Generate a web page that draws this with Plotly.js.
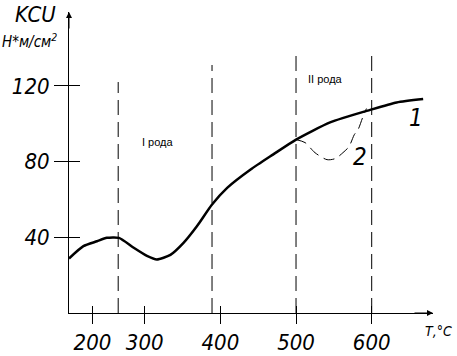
<!DOCTYPE html>
<html>
<head>
<meta charset="utf-8">
<script src="https://cdn.plot.ly/plotly-3.0.1.min.js"></script>
<style>html,body{margin:0;padding:0;background:#fff;}#chart{width:457px;height:356px;}</style>
</head>
<body>
<div id="chart"></div>
<script>
// Curve 1 (KCU vs T)
var T1 = [200, 219, 237, 250, 266, 285, 303, 316, 334, 351, 369, 389, 409, 440, 470, 500, 545, 598, 633, 668];
var V1 = [28.8, 35.3, 37.9, 39.7, 39.7, 34.6, 30.2, 28.3, 30.7, 36.9, 45.8, 57.3, 66.1, 75.8, 83.8, 91.6, 100.7, 107.3, 111.2, 113.0];
// Curve 2 (dashed branch)
var T2 = [500, 512, 525, 541, 552, 562, 570, 577, 582, 588, 593];
var V2 = [91.6, 90.0, 84.7, 81.0, 81.6, 84.7, 87.9, 94.2, 96.9, 103.2, 108];
// Vertical dashed boundaries
var vLineT = [265, 389, 500, 600];
var vLineTop = [122, 131, 137, 137];
// Ticks
var xTickVals = [231, 300, 400, 500, 600];
var xTickText = ['200', '300', '400', '500', '600'];
var yTickVals = [40, 80, 120];
var yTickText = ['40', '80', '120'];
// Region labels
var regionText = ['I рода', 'II рода'];
var regionT = [318, 539];
var regionV = [90.5, 123.8];
// Curve labels
var curveLabels = ['1', '2'];
var curveLabelT = [659, 585];
var curveLabelV = [103.2, 82.6];

var xRange = [200, 681];
var yRange = [0, 159];
var tickFont = {family: 'DejaVu Sans Condensed, Liberation Sans Narrow, sans-serif', size: 22, color: '#000', style: 'italic'};

var traces = [];
for (var i = 0; i < vLineT.length; i++) {
  traces.push({x: [vLineT[i], vLineT[i]], y: [0, vLineTop[i]], mode: 'lines', type: 'scatter',
    line: {color: '#000', width: 1, dash: '15px,7px'}, hoverinfo: 'skip', showlegend: false});
}
traces.push({x: T1, y: V1, mode: 'lines', type: 'scatter', line: {color: '#000', width: 2.5, shape: 'spline', smoothing: 0.6}, showlegend: false});
traces.push({x: T2, y: V2, mode: 'lines', type: 'scatter', xaxis: 'x2', yaxis: 'y2', line: {color: '#000', width: 1, shape: 'spline', smoothing: 0.8, dash: '11px,6px'}, showlegend: false});

var annotations = [];
for (var j = 0; j < regionText.length; j++) {
  annotations.push({x: regionT[j], y: regionV[j], xref: 'x', yref: 'y', text: regionText[j], showarrow: false,
    font: {family: 'Liberation Sans, Arial, sans-serif', size: 11, color: '#000'}});
}
for (var k = 0; k < curveLabels.length; k++) {
  annotations.push({x: curveLabelT[k], y: curveLabelV[k], xref: 'x', yref: 'y', text: curveLabels[k], showarrow: false,
    font: {family: 'DejaVu Sans Condensed, sans-serif', size: 24, color: '#000', style: 'italic'}});
}
annotations.push({x: -0.154, y: 0.993, xref: 'paper', yref: 'paper', xanchor: 'left', yanchor: 'middle', text: 'KCU', showarrow: false,
  font: {family: 'DejaVu Sans Condensed, sans-serif', size: 22, color: '#000', style: 'italic'}});
annotations.push({x: -0.19, y: 0.905, xref: 'paper', yref: 'paper', xanchor: 'left', yanchor: 'middle', text: 'Н*м/см<sup>2</sup>', showarrow: false,
  font: {family: 'DejaVu Sans Condensed, sans-serif', size: 15, color: '#000', style: 'italic'}});
annotations.push({x: 0.973, y: -0.061, xref: 'paper', yref: 'paper', xanchor: 'left', yanchor: 'middle', text: 'Т,°С', showarrow: false,
  font: {family: 'DejaVu Sans Condensed, sans-serif', size: 14, color: '#000', style: 'italic'}});
// axis arrows
annotations.push({x: 0, y: 1, xref: 'paper', yref: 'paper', ax: 0, ay: 18, text: '', showarrow: true, arrowhead: 2, arrowsize: 1.2, arrowwidth: 1, arrowcolor: '#000'});
annotations.push({x: 1, y: 0, xref: 'paper', yref: 'paper', ax: -20, ay: 0, text: '', showarrow: true, arrowhead: 2, arrowsize: 1.2, arrowwidth: 1, arrowcolor: '#000'});

var layout = {
  width: 457, height: 356,
  margin: {l: 69, r: 24, t: 12, b: 42.5, pad: 0},
  paper_bgcolor: '#fff', plot_bgcolor: '#fff',
  showlegend: false,
  xaxis: {range: xRange, showgrid: false, zeroline: false, showline: true, linecolor: '#000', linewidth: 1,
    tickmode: 'array', tickvals: xTickVals, ticktext: xTickText, ticks: 'outside', ticklen: 10, tickwidth: 1, tickcolor: '#000',
    tickfont: tickFont, anchor: 'y'},
  yaxis: {range: yRange, showgrid: false, zeroline: false, showline: true, linecolor: '#000', linewidth: 1,
    tickmode: 'array', tickvals: yTickVals, ticktext: yTickText, ticks: 'outside', ticklen: 14, tickwidth: 1, tickcolor: '#000',
    tickfont: tickFont, anchor: 'x'},
  xaxis2: {range: xRange, overlaying: 'x', anchor: 'y2', showgrid: false, zeroline: false, showline: false, showticklabels: false,
    tickmode: 'array', tickvals: xTickVals, ticks: 'inside', ticklen: 7, tickwidth: 1, tickcolor: '#000'},
  yaxis2: {range: yRange, overlaying: 'y', anchor: 'x2', showgrid: false, zeroline: false, showline: false, showticklabels: false,
    tickmode: 'array', tickvals: yTickVals, ticks: 'inside', ticklen: 11, tickwidth: 1, tickcolor: '#000'},
  annotations: annotations
};

Plotly.newPlot('chart', traces, layout, {staticPlot: true, displayModeBar: false});
</script>
</body>
</html>
